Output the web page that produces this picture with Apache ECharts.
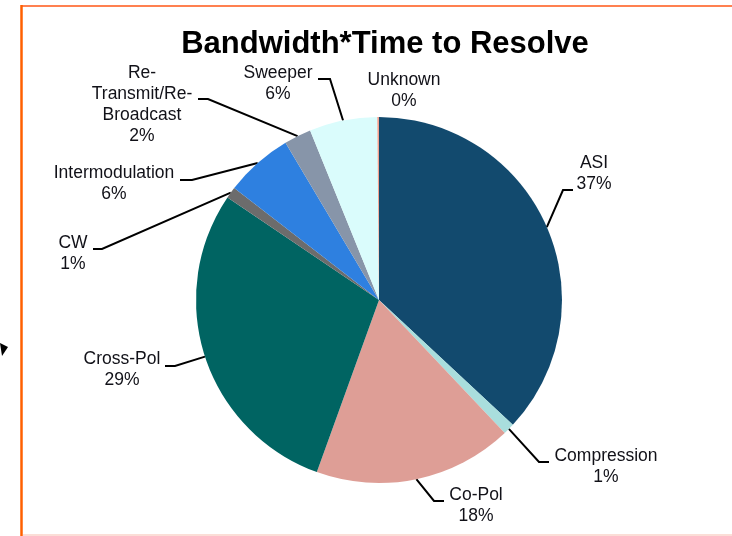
<!DOCTYPE html>
<html>
<head>
<meta charset="utf-8">
<script src="https://cdn.jsdelivr.net/npm/echarts@6/dist/echarts.min.js"></script>
<style>
html,body{margin:0;padding:0;background:#fff;}
#chart{width:732px;height:536px;}
</style>
</head>
<body>
<div id="chart"></div>
<script>
const categories = ['ASI','Compression','Co-Pol','Cross-Pol','CW','Intermodulation','Re-Transmit/Re-Broadcast','Sweeper','Unknown'];
const shares = [37, 1, 17.6, 29, 1, 6, 2.4, 6, 0.15];
const sliceColors = ['#124A6E','#A9DEDD','#DE9E96','#006462','#6C6C6C','#2E80E0','#8795A9','#DAFCFC','#F2A08E'];
const titleText = 'Bandwidth*Time to Resolve';
const wrappedNames = {'Re-Transmit/Re-Broadcast':'Re-\nTransmit/Re-\nBroadcast'};

// label layout (text-block centres and leader elbows), not data
const labelCentres = [[594,174],[606,467],[476,506],[122,370],[73,254],[114,184],[142,105],[278,84],[404,91]];
const leaderBends = [
  [[563,190],[573,190]],
  [[539,462],[549,462]],
  [[434,501],[444,501]],
  [[175,366],[165,366]],
  [[102,249],[93,249]],
  [[192,180],[180,180]],
  [[208,99],[198,99]],
  [[330,79],[318,79]],
  null
];

const chart = echarts.init(document.getElementById('chart'), null, {renderer:'canvas'});
const fontFam = '"Liberation Sans", Arial, sans-serif';

chart.setOption({
  animation:false,
  backgroundColor:'#ffffff',
  title:{
    text:titleText,
    left:380, top:24, textAlign:'center',
    textStyle:{fontFamily:fontFam,fontWeight:'bold',fontSize:31,color:'#000'}
  },
  graphic:[
    {type:'line',shape:{x1:22,y1:6,x2:732,y2:6},style:{stroke:'#FF8050',lineWidth:2}},
    {type:'line',shape:{x1:21.5,y1:5,x2:21.5,y2:536},style:{stroke:'#FF6000',lineWidth:2.5}},
    {type:'line',shape:{x1:23,y1:535,x2:732,y2:535},style:{stroke:'#FAD3CA',lineWidth:1.5}},
    {type:'polygon',shape:{points:[[0,343],[8,347],[2,356]]},style:{fill:'#000'}}
  ],
  series:[{
    type:'pie',
    center:[379,300],
    radius:183,
    startAngle:90,
    clockwise:true,
    minAngle:0,
    avoidLabelOverlap:false,
    itemStyle:{borderWidth:0},
    emphasis:{disabled:true},
    label:{
      show:true,
      position:'outside',
      fontFamily:fontFam,
      fontSize:17.5,
      lineHeight:21,
      color:'#111118',
      align:'center',
      formatter:function(p){
        const nm = wrappedNames[p.name] || p.name;
        return nm + '\n' + Math.round(p.percent) + '%';
      }
    },
    labelLine:{show:true,length:10,length2:10,lineStyle:{color:'#000',width:2}},
    labelLayout:function(params){
      const i = params.dataIndex;
      const c = labelCentres[i];
      const out = {x:c[0], y:c[1], align:'center', verticalAlign:'middle'};
      const b = leaderBends[i];
      if (b && params.labelLinePoints) {
        out.labelLinePoints = [params.labelLinePoints[0], b[0], b[1]];
      }
      return out;
    },
    data:categories.map(function(n,i){
      const d = {name:n, value:shares[i], itemStyle:{color:sliceColors[i]}};
      if (!leaderBends[i]) d.labelLine = {show:false};
      return d;
    })
  }]
});
</script>
</body>
</html>
